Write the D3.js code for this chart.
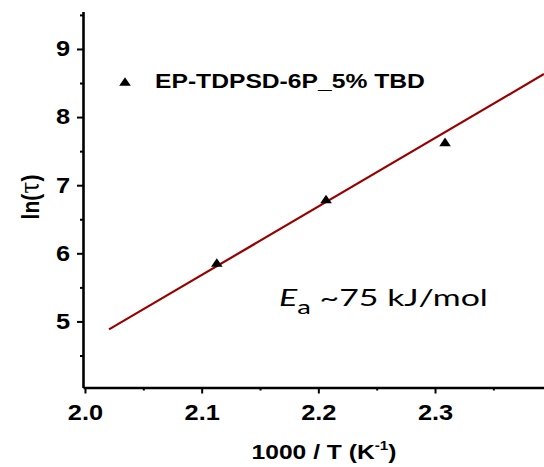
<!DOCTYPE html>
<html>
<head>
<meta charset="UTF-8">
<title>ln(tau) vs 1000/T</title>
<script src="https://cdn.jsdelivr.net/npm/d3@7"></script>
<style type="text/css">
	body{ margin:0; background:#fff; }
	svg{ display:block; }
</style>
</head>
<body>
<script>
// measured points
var invT = [2.113, 2.2066, 2.3086];
var lnTau = [5.86, 6.79, 7.63];

// linear fit, end points
var fitX = [2.0206, 2.3934];
var fitY = [4.883, 8.632];

var xTicks = [2.0, 2.1, 2.2, 2.3];
var xMinor = [2.05, 2.15, 2.25, 2.35];
var yTicks = [5, 6, 7, 8, 9];
var yMinor = [4.5, 5.5, 6.5, 7.5, 8.5, 9.5];

var seriesName = "EP-TDPSD-6P_5% TBD";

var width = 544, height = 467;
// the original picture is a bit stretched sideways
var sx = 1.18;

var svg = d3.select("body").append("svg")
	.attr("width", width)
	.attr("height", height);

var x = d3.scaleLinear().domain([1.9983, 2.3934]).range([83, 544]);
var y = d3.scaleLinear().domain([4.03, 9.55]).range([387.5, 11.5]);

var axisFont = "'Liberation Sans', Arial, sans-serif";

// squeeze/stretch a text so it spans w pixels, keeping its anchor point
function fitWidth(sel, w){
	var bb = sel.node().getBBox();
	var ax = +sel.attr("x");
	var k = w / bb.width;
	sel.attr("transform", "translate(" + ax + ",0) scale(" + k + ",1) translate(" + (-ax) + ",0)");
}

// x axis
var gx = svg.append("g").attr("transform", "translate(0,387.5)");
gx.call(d3.axisBottom(x).tickValues(xTicks).tickFormat(d3.format(".1f")).tickSize(6).tickSizeOuter(0));
gx.append("g").call(d3.axisBottom(x).tickValues(xMinor).tickFormat("").tickSize(3).tickSizeOuter(0))
	.select(".domain").remove();

// y axis
var gy = svg.append("g").attr("transform", "translate(83,0)");
gy.call(d3.axisLeft(y).tickValues(yTicks).tickFormat(d3.format("d")).tickSize(6).tickSizeOuter(0));
gy.append("g").call(d3.axisLeft(y).tickValues(yMinor).tickFormat("").tickSize(3).tickSizeOuter(0))
	.select(".domain").remove();

svg.selectAll(".domain").attr("stroke", "#000").attr("stroke-width", 2.6);
svg.selectAll(".tick line").attr("stroke", "#000").attr("stroke-width", 2);
svg.selectAll(".tick text")
	.attr("font-family", axisFont)
	.attr("font-weight", "bold")
	.attr("font-size", "21.5px")
	.attr("fill", "#000");
gx.selectAll(".tick text").attr("dy", "0.71em").attr("y", 0)
	.attr("transform", "translate(0,17) scale(" + sx + ",1)");
gy.selectAll(".tick text").attr("x", 0)
	.attr("transform", "translate(-13,0) scale(" + sx + ",1)");

// axis titles
var xt = svg.append("text")
	.attr("x", 324).attr("y", 459)
	.attr("text-anchor", "middle")
	.attr("font-family", axisFont).attr("font-weight", "bold").attr("font-size", "21px");
xt.append("tspan").text("1000 / T (K");
xt.append("tspan").attr("font-size", "13px").attr("dy", -9).text("-1");
xt.append("tspan").attr("dy", 9).text(")");
fitWidth(xt, 145);

var yt = svg.append("text")
	.attr("transform", "translate(39,197) scale(" + sx + ",1) rotate(-90)")
	.attr("text-anchor", "middle")
	.attr("font-family", axisFont).attr("font-weight", "bold").attr("font-size", "21px");
yt.append("tspan").text("ln(");
yt.append("tspan").attr("font-weight", "normal").attr("font-family", "'DejaVu Serif', serif").attr("font-size", "22px").text("τ");
yt.append("tspan").text(")");

// fit line
svg.append("line")
	.attr("x1", x(fitX[0])).attr("y1", y(fitY[0]))
	.attr("x2", x(fitX[1])).attr("y2", y(fitY[1]))
	.attr("stroke", "#990000").attr("stroke-width", 2.2);

// points
var tri = d3.symbol().type(d3.symbolTriangle).size(42);
svg.selectAll(".pt")
	.data(invT)
	.enter()
		.append("path")
		.attr("class", "pt")
		.attr("d", tri)
		.attr("transform", function(d, i){ return "translate(" + x(d) + "," + (y(lnTau[i]) + 1) + ") scale(" + sx + ",1)"; })
		.attr("fill", "#000");

// legend
svg.append("path").attr("d", tri).attr("transform", "translate(125,83) scale(" + sx + ",1)").attr("fill", "#000");
var lg = svg.append("text")
	.attr("x", 155).attr("y", 88.5)
	.attr("font-family", axisFont).attr("font-weight", "bold").attr("font-size", "20px")
	.text(seriesName);
fitWidth(lg, 270);

// activation energy note
var ea = svg.append("text")
	.attr("x", 279).attr("y", 306)
	.attr("font-family", "Lato, 'Open Sans', sans-serif").attr("font-size", "23.5px");
ea.append("tspan").attr("font-style", "italic").text("E");
ea.append("tspan").attr("font-size", "19px").attr("dy", 8).text("a");
ea.append("tspan").attr("dy", -8).text(" ~75 kJ/mol");
fitWidth(ea, 209);
</script>
</body>
</html>
